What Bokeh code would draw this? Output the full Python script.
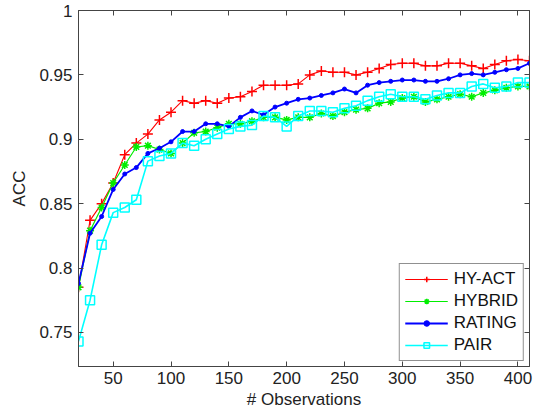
from bokeh.plotting import figure
from bokeh.models import LinearAxis, FixedTicker, NumeralTickFormatter, Range1d, CustomJSTickFormatter
from bokeh.embed import file_html
from bokeh.resources import INLINE

observations = list(range(20, 411, 10))

hy_act = [0.785, 0.837, 0.850, 0.866, 0.888, 0.897, 0.904, 0.915, 0.921, 0.930,
          0.928, 0.930, 0.928, 0.932, 0.933, 0.937, 0.942, 0.942, 0.942, 0.943,
          0.950, 0.953, 0.952, 0.952, 0.950, 0.952, 0.955, 0.958, 0.959, 0.959,
          0.957, 0.957, 0.959, 0.959, 0.957, 0.955, 0.958, 0.961, 0.962, 0.961]

hybrid = [0.785, 0.829, 0.847, 0.866, 0.880, 0.894, 0.895, 0.892, 0.889, 0.897,
          0.905, 0.906, 0.909, 0.912, 0.912, 0.914, 0.917, 0.917, 0.915, 0.917,
          0.917, 0.920, 0.918, 0.921, 0.923, 0.924, 0.928, 0.929, 0.932, 0.933,
          0.929, 0.931, 0.933, 0.935, 0.933, 0.936, 0.938, 0.940, 0.941, 0.941]

rating = [0.788, 0.827, 0.840, 0.861, 0.873, 0.878, 0.889, 0.893, 0.898, 0.906,
          0.906, 0.912, 0.912, 0.910, 0.917, 0.922, 0.919, 0.925, 0.928, 0.931,
          0.932, 0.934, 0.936, 0.939, 0.936, 0.942, 0.944, 0.945, 0.946, 0.946,
          0.945, 0.945, 0.947, 0.950, 0.951, 0.950, 0.952, 0.954, 0.955, 0.959]

pair = [0.743, 0.775, 0.818, 0.843, 0.847, 0.853, 0.883, 0.887, 0.889, 0.897,
        0.895, 0.900, 0.904, 0.908, 0.910, 0.911, 0.918, 0.917, 0.910, 0.918,
        0.922, 0.922, 0.921, 0.924, 0.926, 0.930, 0.933, 0.935, 0.933, 0.933,
        0.931, 0.934, 0.936, 0.936, 0.941, 0.943, 0.940, 0.941, 0.944, 0.944]

x_ticks = [50, 100, 150, 200, 250, 300, 350, 400]
y_ticks = [0.75, 0.8, 0.85, 0.9, 0.95, 1.0]

FONT = "Liberation Sans"
AX = "#444444"
FS = "17px"

p = figure(width=535, height=412, output_backend="svg", toolbar_location=None,
           x_range=Range1d(20, 410), y_range=Range1d(0.7235, 1.0),
           min_border_left=78, min_border_right=6, min_border_top=10,
           min_border_bottom=46)
p.background_fill_color = "white"
p.border_fill_color = "white"
p.outline_line_color = AX
p.xgrid.visible = False
p.ygrid.visible = False

for ax, ticks in ((p.xaxis[0], x_ticks), (p.yaxis[0], y_ticks)):
    ax.ticker = FixedTicker(ticks=ticks)
    ax.major_tick_in = 5
    ax.major_tick_out = 0
    ax.minor_tick_in = 0
    ax.minor_tick_out = 0
    ax.axis_line_color = AX
    ax.major_tick_line_color = AX
    ax.major_label_text_font = FONT
    ax.major_label_text_font_size = FS
    ax.major_label_text_color = "#222222"
    ax.axis_label_text_font = FONT
    ax.axis_label_text_font_size = FS
    ax.axis_label_text_font_style = "normal"
    ax.axis_label_text_color = "#222222"

p.yaxis[0].formatter = NumeralTickFormatter(format="0.[00]")
p.xaxis[0].axis_label = "# Observations"
p.yaxis[0].axis_label = "ACC"
p.xaxis[0].major_label_standoff = 5
p.xaxis[0].axis_label_standoff = 3
p.yaxis[0].major_label_standoff = 6
p.yaxis[0].axis_label_standoff = 7

for loc, ticks in (("above", x_ticks), ("right", y_ticks)):
    a = LinearAxis(ticker=FixedTicker(ticks=ticks),
                   formatter=CustomJSTickFormatter(code="return ''"),
                   major_label_standoff=0, major_tick_in=5, major_tick_out=0,
                   minor_tick_in=0, minor_tick_out=0, axis_line_color=AX,
                   major_tick_line_color=AX)
    p.add_layout(a, loc)

series = [
    ("HY-ACT", hy_act, "#ff0000", "cross", 10, 1.1),
    ("HYBRID", hybrid, "#00ee00", "asterisk", 8, 1.2),
    ("RATING", rating, "#0000ff", "circle", 4, 1.8),
    ("PAIR", pair, "#00ffff", "square", 9, 1.6),
]

for name, ys, color, marker, size, lw in series:
    p.line(observations, ys, line_color=color, line_width=lw, legend_label=name)
    if marker == "circle":
        p.scatter(observations, ys, marker=marker, size=size, line_color=color,
                  fill_color=color, legend_label=name)
    else:
        p.scatter(observations, ys, marker=marker, size=size, line_color=color,
                  fill_color=None, line_width=1.5, legend_label=name)

lg = p.legend[0]
lg.location = "bottom_right"
lg.margin = 5
lg.padding = 5
lg.spacing = 2
lg.label_height = 20
lg.glyph_height = 14
lg.glyph_width = 43
lg.label_standoff = 6
lg.label_text_font = FONT
lg.label_text_font_size = FS
lg.label_text_color = "#111111"
lg.border_line_color = "#222222"
lg.border_line_width = 1
lg.background_fill_color = "white"
lg.background_fill_alpha = 1.0

open("out.html", "w").write(file_html(p, INLINE))
